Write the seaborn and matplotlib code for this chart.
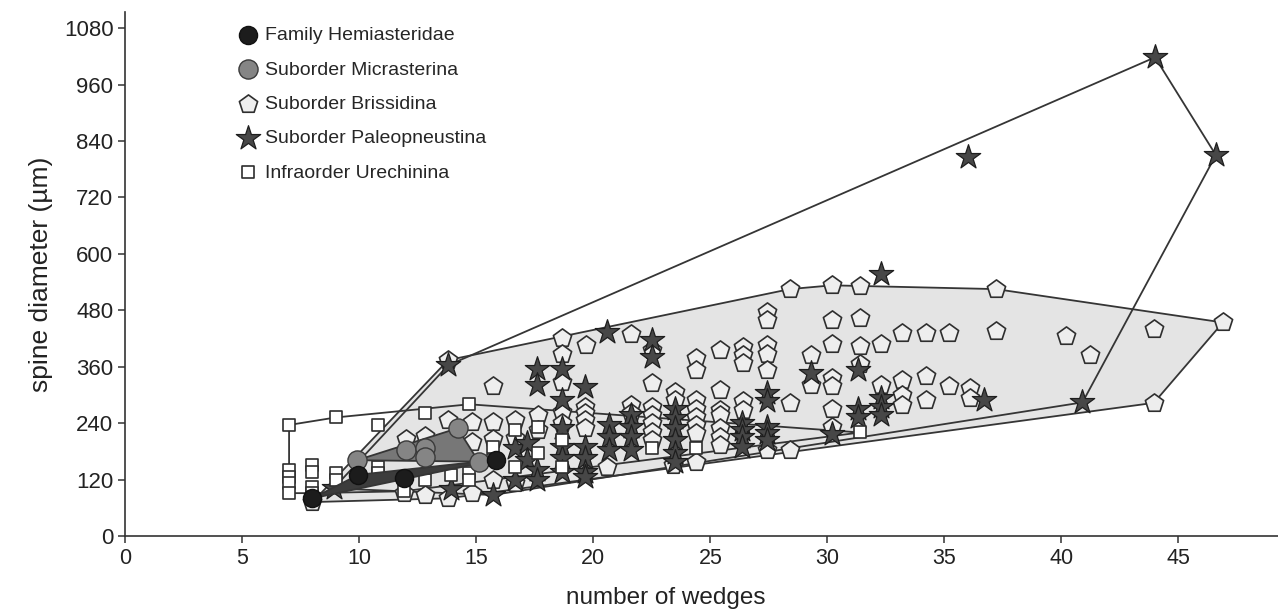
import numpy as np
import pandas as pd
import matplotlib
matplotlib.use("Agg")
import matplotlib.pyplot as plt
import seaborn as sns

# Family Hemiasteridae
hemi_x = [8.0, 9.96, 11.9, 15.85]
hemi_y = [80, 130, 124, 162]

# Suborder Micrasterina
micr_x = [9.9, 12.0, 12.8, 12.8, 14.2, 15.1]
micr_y = [161, 183, 186, 167, 229, 158]

# Suborder Brissidina
briss_x = [8.0, 11.9, 12.8, 13.8, 14.8, 15.7, 16.65,
           12.0, 12.8, 13.8, 13.8, 14.8, 14.8, 15.7, 15.7, 16.65, 16.65, 13.8, 15.7,
           17.65, 17.65,
           18.65, 18.65, 18.65, 18.65, 18.65,
           19.7, 19.65, 19.65, 19.65, 19.65,
           20.6, 21.6, 21.6, 21.6,
           22.5, 22.5, 22.5, 22.5, 22.5, 22.5, 22.5,
           23.5, 23.5, 23.4,
           24.4, 24.4, 24.4, 24.4, 24.4, 24.4, 24.4, 24.4,
           25.4, 25.4, 25.4, 25.4, 25.4, 25.4, 25.4,
           26.4, 26.4, 26.4, 26.4, 26.4,
           27.4, 27.4, 27.4, 27.4, 27.4, 27.4,
           28.4, 28.4, 28.4,
           29.3, 29.3,
           30.2, 30.2, 30.2, 30.2, 30.2, 30.2, 30.2,
           31.4, 31.4, 31.4, 31.4,
           32.3, 32.3,
           33.2, 33.2, 33.2, 33.2,
           34.2, 34.2, 34.2,
           35.2, 35.2,
           36.1, 36.1,
           37.2, 37.2,
           40.2, 41.2, 43.95, 43.95, 46.9]
briss_y = [72, 91, 87, 80, 91, 119, 112,
           206, 213, 200, 247, 243, 200, 243, 206, 247, 208, 374, 319,
           257, 225,
           422, 388, 328, 264, 240,
           407, 275, 261, 247, 229,
           147, 429, 278, 261,
           395, 325, 275, 257, 240, 222, 204,
           307, 289, 150,
           378, 353, 289, 271, 254, 236, 218, 158,
           395, 310, 268, 257, 229, 211, 193,
           402, 385, 367, 286, 268,
           477, 459, 406, 388, 353, 183,
           525, 282, 183,
           385, 321,
           533, 459, 408, 336, 318, 271, 232,
           531, 464, 404, 365,
           408, 321,
           432, 332, 300, 278,
           432, 340, 290,
           432, 318,
           315, 293,
           525, 436,
           425, 384, 440, 283, 454]

# Suborder Paleopneustina
paleo_x = [8.9, 13.8, 13.9, 15.7, 16.65, 16.65, 17.15, 17.15,
           17.6, 17.6, 17.6, 17.6,
           18.65, 18.65, 18.65, 18.65, 18.65, 18.65,
           19.65, 19.65, 19.65, 19.65, 19.65,
           20.6, 20.65, 20.65, 20.65,
           21.6, 21.6, 21.6, 21.6,
           22.5, 22.5,
           23.5, 23.5, 23.5, 23.5, 23.5, 23.5,
           26.35, 26.35, 26.35, 26.35,
           27.4, 27.4, 27.4, 27.4, 27.4,
           29.3, 30.2, 31.3, 31.3, 31.3,
           32.3, 32.3, 32.3, 32.3,
           36.0, 36.7, 40.9, 44.0, 46.6]
paleo_y = [101, 363, 100, 87, 186, 120, 197, 162,
           356, 321, 140, 120,
           356, 289, 229, 190, 165, 137,
           317, 190, 165, 137, 126,
           434, 236, 211, 183,
           257, 232, 211, 183,
           417, 381,
           271, 250, 229, 204, 176, 158,
           240, 225, 211, 190,
           303, 286, 232, 218, 204,
           346, 216, 353, 271, 254,
           557, 293, 275, 257,
           806, 290, 284, 1018, 810]

# Infraorder Urechinina
urech_x = [7.0, 7.0, 7.0, 7.0, 7.0,
           8.0, 8.0, 8.0, 8.0,
           9.0, 9.0, 9.0,
           10.8, 10.8, 10.8, 11.9,
           12.8, 12.8, 13.9,
           14.7, 14.7, 14.7,
           15.7, 15.7, 16.65, 16.65,
           17.65, 17.65, 18.65, 18.65,
           22.5, 24.4, 31.4]
urech_y = [236, 140, 126, 112, 91,
           151, 137, 105, 91,
           252, 133, 119,
           236, 147, 133, 95,
           262, 119, 130,
           280, 133, 119,
           190, 162, 225, 147,
           232, 176, 204, 147,
           186, 186, 220]

labels = ["Family Hemiasteridae", "Suborder Micrasterina", "Suborder Brissidina",
          "Suborder Paleopneustina", "Infraorder Urechinina"]
x_ticks = list(range(0, 50, 5))
y_ticks = list(range(0, 1081, 120))


def hull(x, y):
    pts = sorted(set(zip(x, y)))

    def cross(o, a, b):
        return (a[0] - o[0]) * (b[1] - o[1]) - (a[1] - o[1]) * (b[0] - o[0])

    lower, upper = [], []
    for p in pts:
        while len(lower) >= 2 and cross(lower[-2], lower[-1], p) <= 0:
            lower.pop()
        lower.append(p)
    for p in reversed(pts):
        while len(upper) >= 2 and cross(upper[-2], upper[-1], p) <= 0:
            upper.pop()
        upper.append(p)
    return np.array(lower[:-1] + upper[:-1])


sns.set_style("ticks")
plt.rcParams['font.family'] = ['Liberation Sans', 'DejaVu Sans']

fig = plt.figure(figsize=(12.78, 6.09), dpi=100)
ax = fig.add_axes([0.098, 0.12, 0.912, 0.86])

line_col = "#353535"

# hulls
h = hull(briss_x, briss_y)
ax.fill(h[:, 0], h[:, 1], facecolor="#e4e4e4", edgecolor=line_col, lw=1.3, zorder=1)
h = hull(paleo_x, paleo_y)
ax.fill(h[:, 0], h[:, 1], facecolor="none", edgecolor=line_col, lw=1.3, zorder=2)
h = hull(urech_x, urech_y)
ax.fill(h[:, 0], h[:, 1], facecolor="none", edgecolor=line_col, lw=1.3, zorder=2)
h = hull(hemi_x, hemi_y)
ax.fill(h[:, 0], h[:, 1], facecolor="#3c3c3c", edgecolor=line_col, lw=1.3, zorder=6)
h = hull(micr_x, micr_y)
ax.fill(h[:, 0], h[:, 1], facecolor="#777777", edgecolor=line_col, lw=1.3, zorder=6.5)

df_b = pd.DataFrame({"wedges": briss_x, "diam": briss_y})
df_p = pd.DataFrame({"wedges": paleo_x, "diam": paleo_y})
df_u = pd.DataFrame({"wedges": urech_x, "diam": urech_y})
df_h = pd.DataFrame({"wedges": hemi_x, "diam": hemi_y})
df_m = pd.DataFrame({"wedges": micr_x, "diam": micr_y})

sns.scatterplot(data=df_b, x="wedges", y="diam", marker="p", s=190, color="#eeeeee",
                edgecolor="#2e2e2e", linewidth=1.2, label=labels[2], zorder=3, ax=ax)
sns.scatterplot(data=df_p, x="wedges", y="diam", marker="*", s=340, color="#474747",
                edgecolor="#1e1e1e", linewidth=0.9, label=labels[3], zorder=4, ax=ax)
sns.scatterplot(data=df_u, x="wedges", y="diam", marker="s", s=75, color="white",
                edgecolor="#2e2e2e", linewidth=1.2, label=labels[4], zorder=5, ax=ax)
sns.scatterplot(data=df_m, x="wedges", y="diam", marker="o", s=190, color="#858585",
                edgecolor="#3a3a3a", linewidth=1.0, label=labels[1], zorder=7, ax=ax)
sns.scatterplot(data=df_h, x="wedges", y="diam", marker="o", s=170, color="#1c1c1c",
                edgecolor="#111111", linewidth=1.0, label=labels[0], zorder=8, ax=ax)

handles, labs = ax.get_legend_handles_labels()
order = [labs.index(l) for l in labels]
ax.legend([handles[i] for i in order], labels, loc="upper left",
          bbox_to_anchor=(0.177, 0.969), bbox_transform=fig.transFigure,
          frameon=False, fontsize=14, handletextpad=0.2, labelspacing=0.86,
          borderaxespad=0, handlelength=1.4)

ax.set_xlim(0, 49.8)
ax.set_ylim(0, 1114)
ax.set_xticks(x_ticks)
ax.set_yticks(y_ticks)
ax.tick_params(axis="y", labelsize=16)
ax.tick_params(axis="x", labelsize=15.5)
ax.tick_params(length=5, width=1.1, color="#333333", labelcolor="#222222")
ax.set_xlabel("number of wedges", fontsize=17.5, color="#222222")
ax.xaxis.set_label_coords(0.4635, -0.098)
ax.set_ylabel("spine diameter (µm)", fontsize=19, color="#222222", labelpad=8)
for sp in ["left", "bottom"]:
    ax.spines[sp].set_linewidth(1.2)
    ax.spines[sp].set_color("#333333")
sns.despine(ax=ax)

fig.savefig("out.png", dpi=100)
